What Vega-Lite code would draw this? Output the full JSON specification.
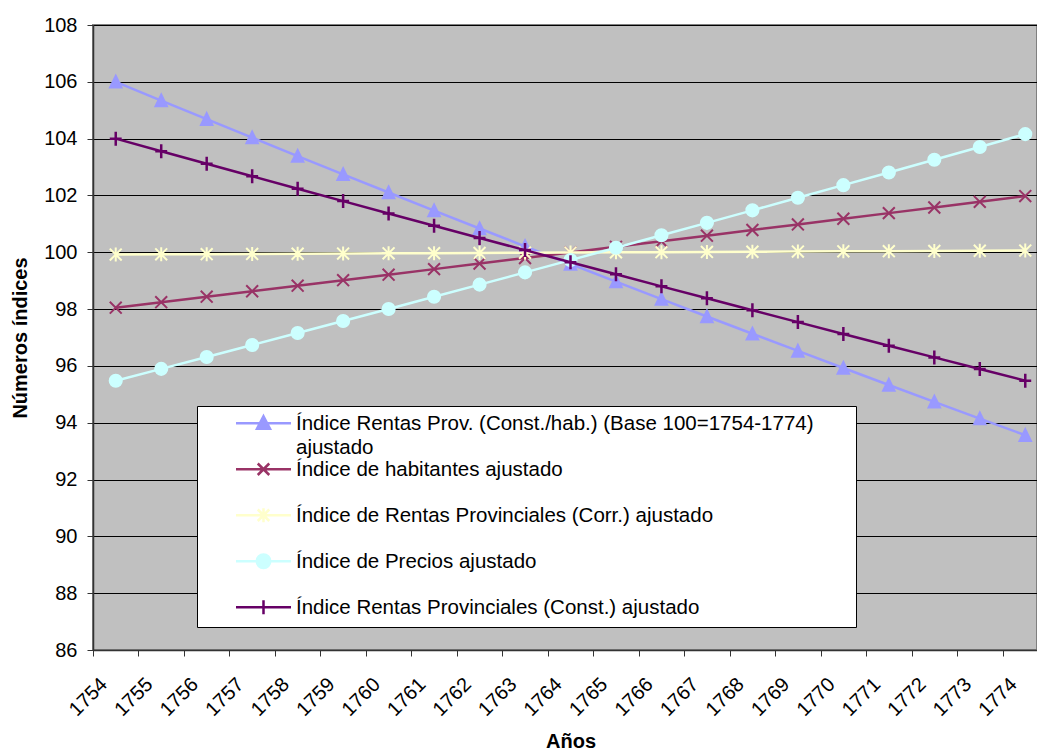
{
  "$schema": "https://vega.github.io/schema/vega-lite/v6.json",
  "width": 944,
  "height": 625,
  "autosize": {"type": "none"},
  "padding": {"left": 93, "top": 25, "right": 0, "bottom": 101},
  "background": "white",
  "config": {
    "font": "Liberation Sans",
    "view": {"fill": "#C0C0C0", "stroke": "#808080", "strokeWidth": 2}
  },
  "data": {
    "values": [
      {"anio": 1754, "rentas_hab": 106.000, "habitantes": 98.050, "rentas_corr": 99.920, "precios": 95.480, "rentas_const": 104.000},
      {"anio": 1755, "rentas_hab": 105.340, "habitantes": 98.243, "rentas_corr": 99.927, "precios": 95.896, "rentas_const": 103.557},
      {"anio": 1756, "rentas_hab": 104.685, "habitantes": 98.436, "rentas_corr": 99.934, "precios": 96.314, "rentas_const": 103.115},
      {"anio": 1757, "rentas_hab": 104.034, "habitantes": 98.629, "rentas_corr": 99.941, "precios": 96.734, "rentas_const": 102.675},
      {"anio": 1758, "rentas_hab": 103.386, "habitantes": 98.823, "rentas_corr": 99.948, "precios": 97.156, "rentas_const": 102.237},
      {"anio": 1759, "rentas_hab": 102.743, "habitantes": 99.017, "rentas_corr": 99.955, "precios": 97.580, "rentas_const": 101.801},
      {"anio": 1760, "rentas_hab": 102.104, "habitantes": 99.212, "rentas_corr": 99.962, "precios": 98.005, "rentas_const": 101.367},
      {"anio": 1761, "rentas_hab": 101.468, "habitantes": 99.407, "rentas_corr": 99.969, "precios": 98.432, "rentas_const": 100.935},
      {"anio": 1762, "rentas_hab": 100.837, "habitantes": 99.602, "rentas_corr": 99.976, "precios": 98.861, "rentas_const": 100.505},
      {"anio": 1763, "rentas_hab": 100.210, "habitantes": 99.798, "rentas_corr": 99.983, "precios": 99.292, "rentas_const": 100.076},
      {"anio": 1764, "rentas_hab": 99.586, "habitantes": 99.994, "rentas_corr": 99.990, "precios": 99.725, "rentas_const": 99.649},
      {"anio": 1765, "rentas_hab": 98.967, "habitantes": 100.191, "rentas_corr": 99.997, "precios": 100.160, "rentas_const": 99.224},
      {"anio": 1766, "rentas_hab": 98.351, "habitantes": 100.388, "rentas_corr": 100.004, "precios": 100.597, "rentas_const": 98.801},
      {"anio": 1767, "rentas_hab": 97.739, "habitantes": 100.585, "rentas_corr": 100.011, "precios": 101.036, "rentas_const": 98.380},
      {"anio": 1768, "rentas_hab": 97.131, "habitantes": 100.783, "rentas_corr": 100.018, "precios": 101.476, "rentas_const": 97.960},
      {"anio": 1769, "rentas_hab": 96.527, "habitantes": 100.981, "rentas_corr": 100.025, "precios": 101.918, "rentas_const": 97.542},
      {"anio": 1770, "rentas_hab": 95.926, "habitantes": 101.179, "rentas_corr": 100.032, "precios": 102.363, "rentas_const": 97.126},
      {"anio": 1771, "rentas_hab": 95.329, "habitantes": 101.378, "rentas_corr": 100.039, "precios": 102.809, "rentas_const": 96.712},
      {"anio": 1772, "rentas_hab": 94.736, "habitantes": 101.577, "rentas_corr": 100.046, "precios": 103.257, "rentas_const": 96.300},
      {"anio": 1773, "rentas_hab": 94.147, "habitantes": 101.777, "rentas_corr": 100.053, "precios": 103.707, "rentas_const": 95.889},
      {"anio": 1774, "rentas_hab": 93.561, "habitantes": 101.977, "rentas_corr": 100.060, "precios": 104.159, "rentas_const": 95.480}
    ]
  },
  "transform": [
    {"fold": ["rentas_hab", "habitantes", "rentas_corr", "precios", "rentas_const"], "as": ["serie", "valor"]}
  ],
  "encoding": {
    "x": {
      "field": "anio",
      "type": "ordinal",
      "scale": {"type": "band", "paddingInner": 0, "paddingOuter": 0, "range": [0, 955]},
      "axis": {
        "title": "Años",
        "titleFontSize": 20,
        "titleFontWeight": "bold",
        "titleColor": "black",
        "titleX": 477.5,
        "titleY": 91,
        "titleBaseline": "middle",
        "labelAngle": -45,
        "labelAlign": "right",
        "labelBaseline": "middle",
        "labelFontSize": 20,
        "labelColor": "black",
        "labelPadding": 25,
        "labelOffset": -12,
        "labelOverlap": false,
        "labelBound": false,
        "tickBand": "extent",
        "tickSize": 6,
        "tickColor": "#333333",
        "domainColor": "#333333",
        "domainWidth": 1.5,
        "grid": false
      }
    },
    "y": {
      "field": "valor",
      "type": "quantitative",
      "scale": {"domain": [86, 108], "nice": false, "zero": false},
      "axis": {
        "values": [86, 88, 90, 92, 94, 96, 98, 100, 102, 104, 106, 108],
        "title": "Números índices",
        "titleFontSize": 20,
        "titleFontWeight": "bold",
        "titleColor": "black",
        "titleX": -73,
        "titleY": 312.5,
        "titleBaseline": "middle",
        "labelFontSize": 20,
        "labelColor": "black",
        "labelPadding": 10,
        "tickSize": 6,
        "tickColor": "#333333",
        "domainColor": "#333333",
        "domainWidth": 1.5,
        "grid": true,
        "gridColor": "#000000",
        "gridWidth": 1
      }
    }
  },
  "layer": [
    {
      "transform": [{"filter": {"field": "serie", "equal": "rentas_hab"}}],
      "mark": {"type": "line", "strokeWidth": 2.5},
      "encoding": {
        "color": {
          "field": "serie",
          "type": "nominal",
          "scale": {
            "domain": ["rentas_hab", "habitantes", "rentas_corr", "precios", "rentas_const"],
            "range": ["#9999FF", "#993366", "#FFFFCC", "#CCFFFF", "#660066"]
          },
          "legend": {
            "title": null,
            "orient": "none",
            "legendX": 104,
            "legendY": 381,
            "direction": "vertical",
            "fillColor": "white",
            "strokeColor": "black",
            "padding": 7,
            "gridAlign": "all",
            "rowPadding": -2.5,
            "labelFont": "Liberation Sans",
            "labelFontSize": 20.5,
            "labelColor": "black",
            "labelLimit": 1000,
            "labelOffset": 22.25,
            "labelBaseline": "top",
            "symbolSize": 100,
            "symbolStrokeWidth": 2.5,
            "symbolOffset": 49.25,
            "labelExpr": "datum.value === 'rentas_hab' ? ['Índice Rentas Prov. (Const./hab.) (Base 100=1754-1774)', 'ajustado'] : datum.value === 'habitantes' ? 'Índice de habitantes ajustado' : datum.value === 'rentas_corr' ? 'Índice de Rentas Provinciales (Corr.) ajustado' : datum.value === 'precios' ? 'Índice de Precios ajustado' : 'Índice Rentas Provinciales (Const.) ajustado'",
            "encode": {
              "symbols": {
                "update": {
                  "fill": {"scale": "color", "field": "value"},
                  "stroke": {"scale": "color", "field": "value"},
                  "strokeWidth": {"value": 2.5},
                  "opacity": {"value": 1},
                  "shape": {"signal": "datum.value === 'rentas_hab' ? 'M-5.5,0L5.5,0M0,-1.4L1.3,1.1L-1.3,1.1ZM116,0' : datum.value === 'habitantes' ? 'M-5.5,0L5.5,0M-1.15,-1.15L1.15,1.15M-1.15,1.15L1.15,-1.15' : datum.value === 'rentas_corr' ? 'M-5.5,0L5.5,0M-1.15,-1.15L1.15,1.15M-1.15,1.15L1.15,-1.15M0,-1.4L0,1.4' : datum.value === 'precios' ? 'M-5.5,0L5.5,0M1.35,0C1.35,0.745 0.745,1.35 0,1.35C-0.745,1.35 -1.35,0.745 -1.35,0C-1.35,-0.745 -0.745,-1.35 0,-1.35C0.745,-1.35 1.35,-0.745 1.35,0Z' : 'M-5.5,0L5.5,0M0,-1.4L0,1.4'"}
                }
              },
              "labels": {
                "update": {
                  "lineHeight": {"value": 24},
                  "dy": {"value": -9.7}
                }
              }
            }
          }
        }
      }
    },
    {
      "transform": [{"filter": {"field": "serie", "equal": "rentas_hab"}}],
      "mark": {"type": "point", "shape": "M0,-0.95L0.88,0.85L-0.88,0.85Z", "filled": true, "fill": "#9999FF", "stroke": "#9999FF", "strokeWidth": 1.5, "size": 196, "opacity": 1}
    },
    {
      "transform": [{"filter": {"field": "serie", "equal": "habitantes"}}],
      "mark": {"type": "line", "strokeWidth": 2.5},
      "encoding": {"color": {"field": "serie", "type": "nominal"}}
    },
    {
      "transform": [{"filter": {"field": "serie", "equal": "habitantes"}}],
      "mark": {"type": "point", "shape": "M-0.85,-0.85L0.85,0.85M-0.85,0.85L0.85,-0.85", "filled": false, "stroke": "#993366", "strokeWidth": 2, "size": 196, "opacity": 1}
    },
    {
      "transform": [{"filter": {"field": "serie", "equal": "rentas_corr"}}],
      "mark": {"type": "line", "strokeWidth": 2.5},
      "encoding": {"color": {"field": "serie", "type": "nominal"}}
    },
    {
      "transform": [{"filter": {"field": "serie", "equal": "rentas_corr"}}],
      "mark": {"type": "point", "shape": "M-0.85,-0.85L0.85,0.85M-0.85,0.85L0.85,-0.85M0,-1L0,1", "filled": false, "stroke": "#FFFFCC", "strokeWidth": 2, "size": 196, "opacity": 1}
    },
    {
      "transform": [{"filter": {"field": "serie", "equal": "precios"}}],
      "mark": {"type": "line", "strokeWidth": 2.5},
      "encoding": {"color": {"field": "serie", "type": "nominal"}}
    },
    {
      "transform": [{"filter": {"field": "serie", "equal": "precios"}}],
      "mark": {"type": "point", "shape": "M0.9,0C0.9,0.497 0.497,0.9 0,0.9C-0.497,0.9 -0.9,0.497 -0.9,0C-0.9,-0.497 -0.497,-0.9 0,-0.9C0.497,-0.9 0.9,-0.497 0.9,0Z", "filled": true, "fill": "#CCFFFF", "stroke": "#CCFFFF", "strokeWidth": 1.5, "size": 196, "opacity": 1}
    },
    {
      "transform": [{"filter": {"field": "serie", "equal": "rentas_const"}}],
      "mark": {"type": "line", "strokeWidth": 2.5},
      "encoding": {"color": {"field": "serie", "type": "nominal"}}
    },
    {
      "transform": [{"filter": {"field": "serie", "equal": "rentas_const"}}],
      "mark": {"type": "point", "shape": "M-0.85,0L0.85,0M0,-1L0,1", "filled": false, "stroke": "#660066", "strokeWidth": 2.5, "size": 196, "opacity": 1}
    }
  ]
}
